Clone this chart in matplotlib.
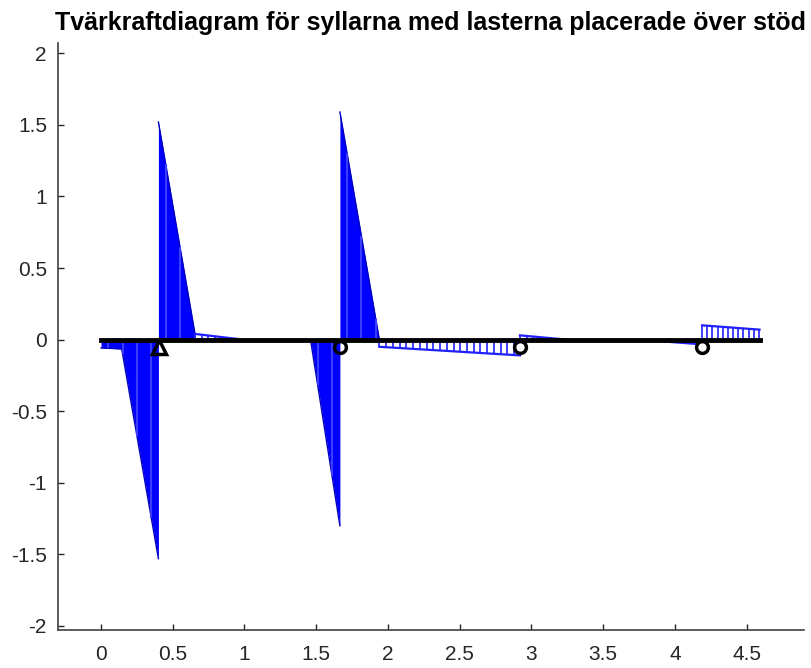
import numpy as np
import matplotlib
matplotlib.use("Agg")
import matplotlib.pyplot as plt

plt.rcParams['axes.unicode_minus'] = False
plt.rcParams['font.family'] = ['Liberation Sans', 'DejaVu Sans']

# shear force, piecewise linear pieces (x in m, V in kN)
# solid filled pieces
xA = [0.0, 0.144, 0.40]
vA = [-0.058, -0.065, -1.53]
xB = [0.40, 0.655]
vB = [1.52, 0.04]
xC = [1.46, 1.665]
vC = [0.0, -1.30]
xD = [1.665, 1.94]
vD = [1.59, 0.0]
# thin pieces (drawn with bars only)
xE = [0.655, 0.95]
vE = [0.04, 0.005]
xF = [1.94, 2.92]
vF = [-0.05, -0.11]
xG = [2.92, 3.25]
vG = [0.03, 0.0]
xH = [3.75, 4.15]
vH = [0.0, -0.03]
xI = [4.19, 4.59]
vI = [0.10, 0.07]

beam_x = [0.0, 4.59]
tri_x = [0.406]
circ_x = [1.665, 2.92, 4.19]
sup_y = -0.05

title = "Tvärkraftdiagram för syllarna med lasterna placerade över stöd"

fig = plt.figure(figsize=(8.12, 6.68), dpi=100)
ax = fig.add_axes([58/812, 38/668, 746/812, 587.3/668])

blue = '#0000ff'
for xs, vs in [(xA, vA), (xB, vB), (xC, vC), (xD, vD)]:
    ax.fill_between(xs, vs, 0, color=blue, lw=0, zorder=2)
    ax.plot(xs, vs, color='#0000c0', lw=1, zorder=3)
    xx = np.arange(xs[0] + 0.05, xs[-1] - 0.02, 0.1)
    ax.vlines(xx, 0, np.interp(xx, xs, vs), color='#3c3cff', lw=1.5, zorder=3)

for xs, vs in [(xE, vE), (xF, vF), (xG, vG), (xH, vH), (xI, vI)]:
    ax.plot(xs, vs, color='#2020ff', lw=1.6, zorder=3)
    step = 0.036 if xs[0] > 4 else 0.047
    xx = np.arange(xs[0], xs[-1] + 1e-6, step)
    ax.vlines(xx, 0, np.interp(xx, xs, vs), color='#2020ff', lw=1.2, zorder=3)

ax.plot(beam_x, [0, 0], color='k', lw=3.5, zorder=4)
ax.plot(tri_x, [sup_y] * len(tri_x), ls='none', marker='^', ms=10,
        mfc='none', mec='k', mew=2.5, zorder=5)
ax.plot(circ_x, [sup_y] * len(circ_x), ls='none', marker='o', ms=8.5,
        mfc='none', mec='k', mew=2.5, zorder=5)

ax.set_xlim(-0.30, 4.90)
ax.set_ylim(-2.028, 2.074)
ax.set_xticks(np.arange(0, 4.6, 0.5))
ax.set_xticklabels(['0', '0.5', '1', '1.5', '2', '2.5', '3', '3.5', '4', '4.5'])
ax.set_yticks(np.arange(-2, 2.1, 0.5))
ax.set_yticklabels(['-2', '-1.5', '-1', '-0.5', '0', '0.5', '1', '1.5', '2'])
ax.spines['top'].set_visible(False)
ax.spines['right'].set_visible(False)
for s in ['left', 'bottom']:
    ax.spines[s].set_color('#404040')
    ax.spines[s].set_linewidth(1.2)
ax.tick_params(direction='in', length=4, width=1, colors='#262626', labelsize=15)
ax.tick_params(axis='x', pad=11)
ax.tick_params(axis='y', pad=8)

ax.set_title(title, fontsize=18, fontweight='bold', pad=9)

fig.savefig('out.png', dpi=100)
